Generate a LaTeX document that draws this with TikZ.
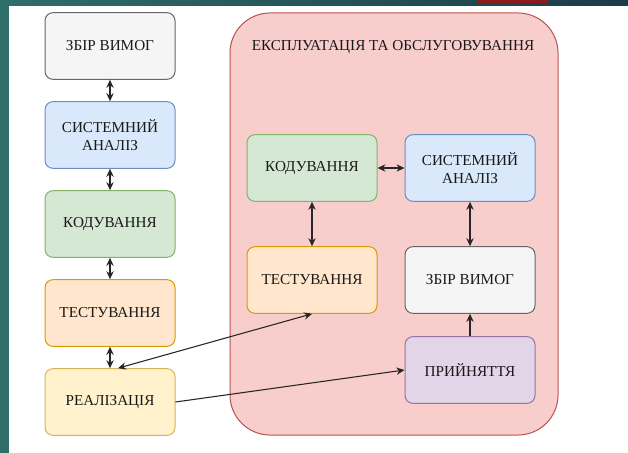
\documentclass[tikz,border=0pt]{standalone}
\usepackage{fontspec}
\setmainfont{Liberation Serif}
\usetikzlibrary{arrows.meta}

\definecolor{frameA}{HTML}{2F6E68}
\definecolor{frameB}{HTML}{1B3B48}
\definecolor{tabred}{HTML}{8E1B1B}
\definecolor{gfill}{HTML}{F5F5F5}\definecolor{gline}{HTML}{666666}
\definecolor{bfill}{HTML}{DAE8FC}\definecolor{bline}{HTML}{6C8EBF}
\definecolor{nfill}{HTML}{D5E8D4}\definecolor{nline}{HTML}{82B366}
\definecolor{ofill}{HTML}{FFE6CC}\definecolor{oline}{HTML}{D79B00}
\definecolor{yfill}{HTML}{FFF2CC}\definecolor{yline}{HTML}{D6B656}
\definecolor{pfill}{HTML}{E1D5E7}\definecolor{pline}{HTML}{9673A6}
\definecolor{rfill}{HTML}{F8CECC}\definecolor{rline}{HTML}{B85450}

\begin{document}
\begin{tikzpicture}
[x=0.75pt, y=-0.75pt, font=\fontsize{11.4}{13.5}\selectfont, text=black!90,
stage/.style={rectangle, rounded corners=6pt, line width=0.75pt, align=center,
  minimum width=97.5pt, minimum height=50pt, inner sep=0pt},
gbox/.style={stage, draw=gline, fill=gfill},
bbox/.style={stage, draw=bline, fill=bfill},
nbox/.style={stage, draw=nline, fill=nfill},
obox/.style={stage, draw=oline, fill=ofill},
ybox/.style={stage, draw=yline, fill=yfill},
pbox/.style={stage, draw=pline, fill=pfill},
link/.style={draw=black!85, line width=0.8pt, -{Stealth[length=6pt, width=5.5pt]}},
dlink/.style={link, {Stealth[length=6pt, width=5.5pt]}-{Stealth[length=6pt, width=5.5pt]}}]

\useasboundingbox (0,0) rectangle (628,453);
\fill[white] (0,0) rectangle (628,453);
\fill[left color=frameA, right color=frameB] (0,0) rectangle (628,6);
\fill[frameA] (0,0) rectangle (9,453);
\fill[tabred] (477,0) rectangle (547,3);

\node[rectangle, rounded corners=30pt, draw=rline, fill=rfill, line width=0.75pt,
  minimum width=246pt, minimum height=316.5pt] (ops) at (394,224) {};
\node (opstitle) at (393,47) {ЕКСПЛУАТАЦІЯ ТА ОБСЛУГОВУВАННЯ};

\node[gbox] (req) at (110,46) {ЗБІР ВИМОГ};
\node[bbox] (sa) at (110,135) {СИСТЕМНИЙ\\АНАЛІЗ};
\node[nbox] (cod) at (110,224) {КОДУВАННЯ};
\node[obox] (tst) at (110,313) {ТЕСТУВАННЯ};
\node[ybox] (rel) at (110,402) {РЕАЛІЗАЦІЯ};

\node[nbox] (icod) at (312,168) {КОДУВАННЯ};
\node[bbox] (isa) at (470,168) {СИСТЕМНИЙ\\АНАЛІЗ};
\node[obox] (itst) at (312,280) {ТЕСТУВАННЯ};
\node[gbox] (ireq) at (470,280) {ЗБІР ВИМОГ};
\node[pbox] (acc) at (470,370) {ПРИЙНЯТТЯ};

\draw[dlink] (req) -- (sa);
\draw[dlink] (sa) -- (cod);
\draw[dlink] (cod) -- (tst);
\draw[dlink] (tst) -- (rel);

\draw[dlink] (icod) -- (isa);
\draw[dlink] (icod) -- (itst);
\draw[dlink] (isa) -- (ireq);
\draw[link] (acc) -- (ireq);

\draw[dlink] ([xshift=6pt]rel.north) -- (itst.south);
\draw[link] (rel.east) -- (acc.west);
\end{tikzpicture}
\end{document}
